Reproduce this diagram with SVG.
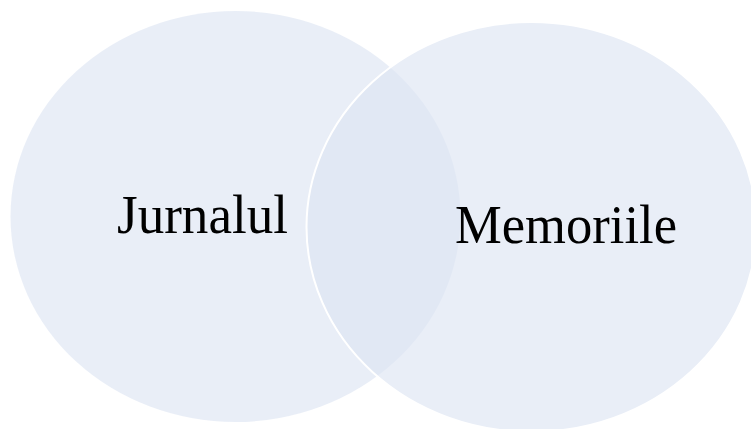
<svg xmlns="http://www.w3.org/2000/svg" width="751" height="429" viewBox="0 0 751 429">
<style>
.c{fill:#DCE4F2;fill-opacity:0.64}
.s{stroke:#FFFFFF;stroke-width:2}
.t{font-family:"Liberation Serif","Times New Roman",serif;font-size:55px;fill:#000000;text-anchor:middle}
</style>
<rect width="751" height="429" fill="#FFFFFF"/>
<g id="node-jurnalul">
<ellipse class="c" cx="235.5" cy="216.5" rx="225" ry="205.5"/>
<text class="t" x="202.5" y="233" textLength="171" lengthAdjust="spacingAndGlyphs">Jurnalul</text>
</g>
<g id="node-memoriile">
<ellipse class="c s" cx="531.5" cy="227" rx="225" ry="205"/>
<text class="t" x="566" y="243" textLength="222" lengthAdjust="spacingAndGlyphs">Memoriile</text>
</g>
<g id="connectors"/>
</svg>
